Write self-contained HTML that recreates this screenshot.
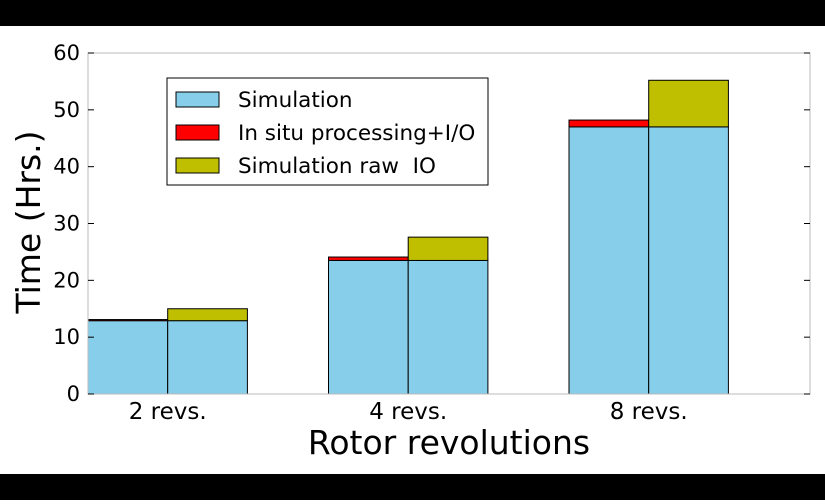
<!DOCTYPE html>
<html><head><meta charset="utf-8"><style>
body{margin:0;background:#fff;width:825px;height:500px;overflow:hidden;font-family:"DejaVu Sans","Liberation Sans",sans-serif}
text{white-space:pre}
</style></head><body>
<svg id="c" width="825" height="500" xmlns="http://www.w3.org/2000/svg">
<rect x="0" y="0" width="825" height="26" fill="#000"/>
<rect x="0" y="474" width="825" height="26" fill="#000"/>
<g id="plot"></g>
</svg>
<script>
const categories=["2 revs.","4 revs.","8 revs."];
const simulation=[12.9,23.5,47.0];
const insitu=[0.2,0.6,1.2];
const rawIO=[2.1,4.1,8.2];
const yTicks=[0,10,20,30,40,50,60];
const NS="http://www.w3.org/2000/svg";
const L=88,R=810,T=53,B=394,yMax=60;
const y=v=>B-(v/yMax)*(B-T);
const bw=79.7;
const g=document.getElementById('plot');
function el(t,a,txt){const e=document.createElementNS(NS,t);for(const k in a)e.setAttribute(k,a[k]);if(txt!=null)e.textContent=txt;g.appendChild(e);return e;}
function rect(x,v0,v1,fill,name){const r=el('rect',{x:x,y:y(v1),width:bw,height:y(v0)-y(v1),fill:fill,stroke:'#000','stroke-width':1});

}
categories.forEach((c,i)=>{
 const x0=L+(i*240.5);
 rect(x0,0,simulation[i],'#87ceeb','bar-simulation-insitu-'+i);
 rect(x0,simulation[i],simulation[i]+insitu[i],'#ff0000','bar-insitu-'+i);
 rect(x0+bw,0,simulation[i],'#87ceeb','bar-simulation-raw-'+i);
 rect(x0+bw,simulation[i],simulation[i]+rawIO[i],'#bfbf00','bar-rawio-'+i);
 const t=el('text',{x:x0+bw,y:419,'font-size':23,'text-anchor':'middle',fill:'#000'},c);
 
 
});
const fr=el('rect',{x:L,y:T,width:R-L,height:B-T,fill:'none',stroke:'#bbb','stroke-width':1});


yTicks.forEach(v=>{
 el('line',{x1:L,x2:L+6,y1:y(v),y2:y(v),stroke:'#000'});
 el('line',{x1:R,x2:R-6,y1:y(v),y2:y(v),stroke:'#000'});
 const t=el('text',{x:L-8,y:y(v)+7,'font-size':21,'text-anchor':'end',fill:'#000'},v);
 
 
});
const yt=el('text',{x:40,y:222,'font-size':33,'text-anchor':'middle',transform:'rotate(-90 40 222)',fill:'#000'},'Time (Hrs.)');


const xt=el('text',{x:449,y:454,'font-size':33,'text-anchor':'middle',fill:'#000'},'Rotor revolutions');


const lg=el('rect',{x:167,y:78,width:321,height:107,fill:'#fff',stroke:'#000'});


[['Simulation','#87ceeb'],['In situ processing+I/O','#ff0000'],['Simulation raw  IO','#bfbf00']].forEach((d,i)=>{
 const yy=92+i*33;
 el('rect',{x:176,y:yy,width:43,height:15,fill:d[1],stroke:'#000'});
 const t=el('text',{x:238,y:yy+15,'font-size':21.5,fill:'#000'},d[0]);
 
 
});
</script>
</body></html>
